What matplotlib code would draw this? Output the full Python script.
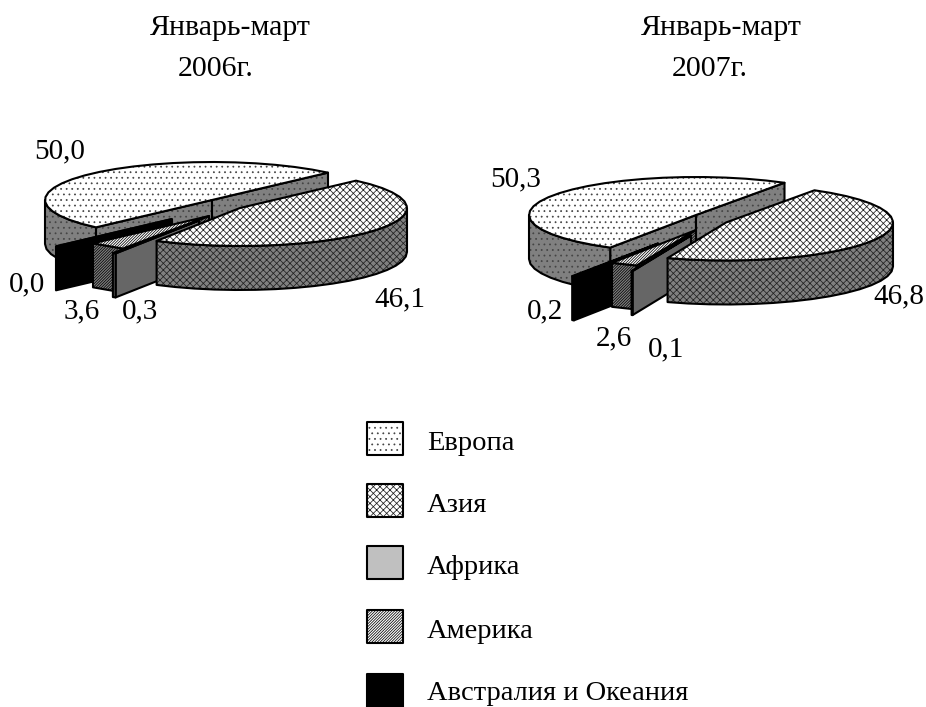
import numpy as np
import matplotlib
matplotlib.use('Agg')
import matplotlib.pyplot as plt
from matplotlib.patches import Polygon

plt.rcParams['font.family'] = ['Liberation Serif', 'DejaVu Serif']
plt.rcParams['hatch.linewidth'] = 0.55

categories = ['Европа', 'Азия', 'Африка', 'Америка', 'Австралия и Океания']
values_2006 = [50.0, 46.1, 0.3, 3.6, 0.0]
values_2007 = [50.3, 46.8, 0.1, 2.6, 0.2]
title_2006 = ['Январь-март', '2006г.']
title_2007 = ['Январь-март', '2007г.']

# top face, side face, hatch per category
styles = {
    'Европа': ('white', '#808080', '...', '#444444'),
    'Азия': ('white', '#808080', 'xxxxx', '#222222'),
    'Африка': ('#c0c0c0', '#666666', None, 'black'),
    'Америка': ('white', '#808080', '/' * 12, 'black'),
    'Австралия и Океания': ('black', 'black', None, 'black'),
}

RX, RY, H = 167, 38, 44


def poly(ax, pts, face, hatch, hatch_color, lw=1.5):
    ax.add_patch(Polygon(pts, closed=True, facecolor=face, edgecolor=hatch_color,
                         hatch=hatch, lw=0))
    ax.add_patch(Polygon(pts, closed=True, fill=False, edgecolor='black', lw=lw,
                         joinstyle='round'))


def arc(c, t0, t1, step=7):
    n = max(int(abs(t0 - t1) / step), 1) + 1
    t = np.radians(np.linspace(t0, t1, n))
    return np.column_stack([c[0] + RX * np.cos(t), c[1] - RY * np.sin(t)])


def draw_slice(ax, c, t0, t1, name):
    top, side, hatch, hc = styles[name]
    c = np.array(c, dtype=float)
    down = np.array([0, H])
    # cut walls that face the viewer
    for a, show in ((t0, np.cos(np.radians(t0)) < 0), (t1, np.cos(np.radians(t1)) > 0)):
        if show:
            p = arc(c, a, a)[0]
            poly(ax, [c, p, p + down, c + down], side, hatch, hc)
    # outer rim, front half only
    r0, r1 = min(t0, 0), max(t1, -180)
    if r0 > r1:
        a = arc(c, r0, r1)
        poly(ax, np.vstack([a, (a + down)[::-1]]), side, hatch, hc)
    poly(ax, np.vstack([[c], arc(c, t0, t1)]), top, hatch, hc)


def draw_pie(ax, values, start, centers, labels):
    # sweep clockwise from Asia round to Europe
    order = [1, 2, 3, 4, 0]
    spans = {}
    t = start
    for i in order:
        spans[i] = (t, t - values[i] * 3.6)
        t -= values[i] * 3.6
    for i in [0, 4, 3, 2, 1]:
        draw_slice(ax, centers[i], spans[i][0], spans[i][1], categories[i])
    for v, (x, y) in zip(values, labels):
        ax.text(x, y, f'{v:.1f}'.replace('.', ','), fontsize=21, ha='center', va='center')


fig = plt.figure(figsize=(9.26, 7.07), dpi=100)
ax = fig.add_axes([0, 0, 1, 1])
ax.set_xlim(0, 926)
ax.set_ylim(707, 0)
ax.axis('off')

draw_pie(ax, values_2006, 46,
         [(212, 200), (240, 208), (199, 220.5), (209, 216), (172, 219)],
         [(60, 151), (400, 299), (140, 311), (82, 311), (27, 284)])
draw_pie(ax, values_2007, 58,
         [(696, 215), (726, 222.5), (691, 235.5), (696, 230), (658, 243.5)],
         [(516, 179), (899, 296), (666, 349), (614, 338), (545, 311)])

for lines, x in ((title_2006, (230, 216)), (title_2007, (721, 710))):
    ax.text(x[0], 28, lines[0], fontsize=21.5, ha='center', va='center')
    ax.text(x[1], 69, lines[1], fontsize=21.5, ha='center', va='center')

legend_y = [438.5, 500.5, 562.5, 626.5, 690]
text_y = [444, 506, 568, 632, 693]
for name, ly, ty in zip(categories, legend_y, text_y):
    top, side, hatch, hc = styles[name]
    poly(ax, [(367, ly - 16.5), (403, ly - 16.5), (403, ly + 16.5), (367, ly + 16.5)],
         top, hatch, hc)
    ax.text(427, ty, name, fontsize=20.5, ha='left', va='center')

fig.savefig('out.png', dpi=100)
